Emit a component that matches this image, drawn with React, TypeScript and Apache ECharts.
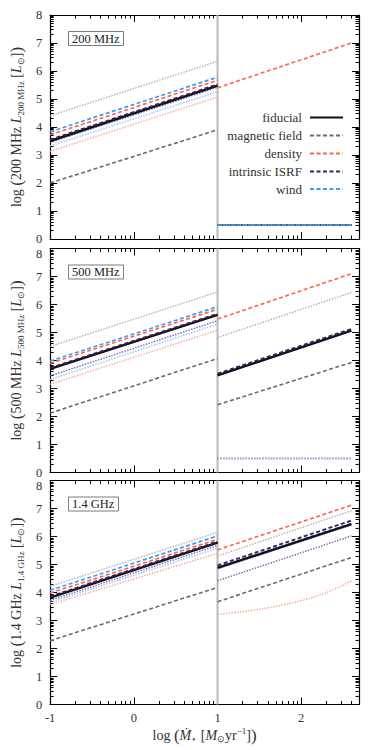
import React, { useEffect, useRef } from 'react';
import * as echarts from 'echarts';

// ---------- axes ----------
const X_MIN = -1;
const X_MAX = 2.69;
const Y_MIN = 0;
const Y_MAX = 8;
const X_MAJOR = [-1, 0, 1, 2];
const Y_MAJOR = [0, 1, 2, 3, 4, 5, 6, 7, 8];
const Y_MAJOR_NO_TOP = [0, 1, 2, 3, 4, 5, 6, 7];
const Y_TOP = [8];
const X_SPLIT = 1;

// x positions of the two model segments
const X_LEFT = [-1, 1];
const X_RIGHT = [1, 2.6];
const X_CURVE = [1, 1.2, 1.4, 1.6, 1.8, 2.0, 2.2, 2.4, 2.6];

// series order (drawing order)
const KEYS = ['magDot', 'magDash', 'denDot', 'denDash', 'isrfDot', 'windDot', 'windDash', 'fid', 'isrfDash'];
const NAMES = [
  'magnetic field (high)', 'magnetic field', 'density (low)', 'density',
  'intrinsic ISRF (low)', 'wind (low)', 'wind', 'fiducial', 'intrinsic ISRF',
];
const LEGEND_NAMES = ['fiducial', 'magnetic field', 'density', 'intrinsic ISRF', 'wind'];

// 200 MHz panel
const p200LeftStart = [4.40, 2.00, 3.13, 3.72, 3.45, 3.32, 3.83, 3.50, 3.55];
const p200LeftEnd = [6.35, 3.90, 5.07, 5.67, 5.42, 5.26, 5.78, 5.48, 5.52];
const p200RightStart = [0.5, 0.5, 0.5, 5.40, 0.5, 0.5, 0.5, 0.5, 0.5];
const p200RightEnd = [0.5, 0.5, 0.5, 7.00, 0.5, 0.5, 0.5, 0.5, 0.5];

// 500 MHz panel
const p500LeftStart = [4.50, 2.12, 3.15, 3.90, 3.45, 3.32, 3.98, 3.70, 3.74];
const p500LeftEnd = [6.45, 4.07, 5.08, 5.83, 5.42, 5.30, 5.92, 5.63, 5.67];
const p500RightStart = [4.82, 2.42, 0.5, 5.48, 0.5, 0.5, 3.50, 3.47, 3.53];
const p500RightEnd = [6.43, 3.93, 0.5, 7.10, 0.5, 0.5, 5.10, 5.07, 5.13];

// 1.4 GHz panel
const p14LeftStart = [4.22, 2.28, 3.57, 3.98, 3.72, 3.65, 4.08, 3.82, 3.86];
const p14LeftEnd = [6.15, 4.18, 5.40, 5.90, 5.68, 5.58, 6.02, 5.78, 5.82];
const p14RightStart = [5.30, 3.67, null, 5.52, 4.42, 4.84, 4.90, 4.88, 4.97];
const p14RightEnd = [6.92, 5.25, null, 7.12, 6.02, 6.40, 6.47, 6.44, 6.57];
const p14DensityLowRight = [3.22, 3.28, 3.36, 3.45, 3.57, 3.71, 3.89, 4.12, 4.42];

const PANEL_LABELS = ['200 MHz', '500 MHz', '1.4 GHz'];
const PANEL_YNAMES = [
  '{t|log }{b|(}{t|200 MHz }{i|L}{s|200 MHz}{t| [}{i|L}{s|⊙}{t|]}{b|)}',
  '{t|log }{b|(}{t|500 MHz }{i|L}{s|500 MHz}{t| [}{i|L}{s|⊙}{t|]}{b|)}',
  '{t|log }{b|(}{t|1.4 GHz }{i|L}{s|1.4 GHz}{t| [}{i|L}{s|⊙}{t|]}{b|)}',
];

const STYLES: Record<string, any> = {
  magDot: { color: '#a9a9a9', type: [1.4, 1.4], width: 1.3 },
  magDash: { color: '#6c6c6c', type: [4, 2.5], width: 1.6 },
  denDot: { color: '#ffa18e', type: [1.4, 1.4], width: 1.4 },
  denDash: { color: '#ff6443', type: [4, 2.5], width: 1.6 },
  isrfDot: { color: '#7a5bb0', type: [1.4, 1.4], width: 1.4 },
  windDot: { color: '#8ec5ff', type: [1.4, 1.4], width: 1.5 },
  windDash: { color: '#3d9cf6', type: [4, 2.5], width: 1.7 },
  fid: { color: '#111111', type: 'solid', width: 2.4 },
  isrfDash: { color: '#3a2260', type: [4, 2.5], width: 1.9 },
};

const FONT = 'Liberation Serif';

function minorValues(from: number, to: number, max: number) {
  const out: number[] = [];
  for (let n = from; n <= to; n++) {
    for (let k = 2; k <= 9; k++) {
      const v = n + Math.log10(k);
      if (v < max) out.push(+v.toFixed(4));
    }
  }
  return out;
}
const X_MINOR = minorValues(-1, 2, X_MAX);
const Y_MINOR = minorValues(0, 7, Y_MAX);

const GRID_TOPS = [15, 248.5, 480.5];
const GRID_H = 224;

export default function App() {
  const ref = useRef<HTMLDivElement>(null);
  useEffect(() => {
    document.body.style.margin = '0';
    if (!ref.current) return;
    const chart = echarts.init(ref.current, null, { renderer: 'svg' });

    const lineStyle = { color: '#000', width: 1.2 };
    const tickStyle = { color: '#000', width: 1 };
    const labelBase = { fontFamily: FONT, fontSize: 12.5, color: '#333' };
    const xAxis: any[] = [];
    const yAxis: any[] = [];
    const grid: any[] = [];
    const series: any[] = [];
    const title: any[] = [];

    const panels = [
      [p200LeftStart, p200LeftEnd, p200RightStart, p200RightEnd],
      [p500LeftStart, p500LeftEnd, p500RightStart, p500RightEnd],
      [p14LeftStart, p14LeftEnd, p14RightStart, p14RightEnd],
    ];

    const richName = {
      t: { fontFamily: FONT, fontSize: 14, color: '#333' },
      b: { fontFamily: FONT, fontSize: 17, color: '#333' },
      i: { fontFamily: FONT, fontSize: 14, fontStyle: 'italic', color: '#333' },
      s: { fontFamily: FONT, fontSize: 9, color: '#333', verticalAlign: 'bottom' },
      p: { fontFamily: FONT, fontSize: 9, color: '#333', verticalAlign: 'top' },
    };

    GRID_TOPS.forEach((top, g) => {
      grid.push({ left: 46, right: 15, top, height: GRID_H });
      const xb = { type: 'value', gridIndex: g, min: X_MIN, max: X_MAX, splitLine: { show: false } };
      const yb = { type: 'value', gridIndex: g, min: Y_MIN, max: Y_MAX, splitLine: { show: false } };
      const last = g === 2;
      xAxis.push(
        {
          ...xb, position: 'bottom',
          axisLine: { show: true, onZero: false, lineStyle },
          axisTick: { show: true, inside: true, length: 7, customValues: X_MAJOR, lineStyle: tickStyle },
          axisLabel: { show: last, customValues: X_MAJOR, ...labelBase, margin: 7 },
          ...(last ? {
            name: '{t|log }{b|(}{i|Ṁ}{s|⋆}{t| [}{i|M}{s|⊙}{t|yr}{p|−1}{t|]}{b|)}',
            nameLocation: 'middle', nameGap: 22,
            nameTextStyle: { fontFamily: FONT, fontSize: 14, color: '#333', rich: richName },
          } : {}),
        },
        {
          ...xb, position: 'bottom',
          axisLine: { show: false, onZero: false },
          axisTick: { show: true, inside: true, length: 3.5, customValues: X_MINOR, lineStyle: tickStyle },
          axisLabel: { show: false },
        },
        {
          ...xb, position: 'top',
          axisLine: { show: true, onZero: false, lineStyle },
          axisTick: { show: true, inside: true, length: 7, customValues: X_MAJOR, lineStyle: tickStyle },
          axisLabel: { show: false },
        },
        {
          ...xb, position: 'top',
          axisLine: { show: false, onZero: false },
          axisTick: { show: true, inside: true, length: 3.5, customValues: X_MINOR, lineStyle: tickStyle },
          axisLabel: { show: false },
        },
      );
      yAxis.push(
        {
          ...yb, position: 'left',
          axisLine: { show: true, onZero: false, lineStyle },
          axisTick: { show: true, inside: true, length: 7, customValues: Y_MAJOR, lineStyle: tickStyle },
          axisLabel: { show: true, customValues: g === 0 ? Y_MAJOR : Y_MAJOR_NO_TOP, ...labelBase, margin: 8 },
          name: PANEL_YNAMES[g], nameLocation: 'middle', nameGap: 21, nameRotate: 90,
          nameTextStyle: { fontFamily: FONT, fontSize: 14, color: '#333', rich: richName },
        },
        {
          ...yb, position: 'left',
          axisLine: { show: false, onZero: false },
          axisTick: { show: true, inside: true, length: 3.5, customValues: Y_MINOR, lineStyle: tickStyle },
          // top label of the lower panels sits just under the panel above
          axisLabel: g === 0 ? { show: false } : {
            show: true, customValues: Y_TOP, ...labelBase, margin: 8, verticalAlign: 'top', padding: [-1, 0, 0, 0],
          },
        },
        {
          ...yb, position: 'right',
          axisLine: { show: true, onZero: false, lineStyle },
          axisTick: { show: true, inside: true, length: 7, customValues: Y_MAJOR, lineStyle: tickStyle },
          axisLabel: { show: false },
        },
        {
          ...yb, position: 'right',
          axisLine: { show: false, onZero: false },
          axisTick: { show: true, inside: true, length: 3.5, customValues: Y_MINOR, lineStyle: tickStyle },
          axisLabel: { show: false },
        },
      );

      // divider
      series.push({
        type: 'line', name: 'divider', xAxisIndex: 4 * g, yAxisIndex: 4 * g,
        data: [[X_SPLIT, Y_MIN], [X_SPLIT, Y_MAX]],
        symbol: 'none', silent: true, z: 1,
        lineStyle: { color: '#b9b9b9', width: 2 },
      });

      const [ls, le, rs, re] = panels[g];
      KEYS.forEach((key, i) => {
        const st = STYLES[key];
        const common = {
          type: 'line', name: NAMES[i], xAxisIndex: 4 * g, yAxisIndex: 4 * g,
          symbol: 'none', showSymbol: false, silent: true,
          lineStyle: { color: st.color, type: st.type, width: st.width },
          itemStyle: { color: st.color },
          z: 2,
        };
        series.push({ ...common, data: [[X_LEFT[0], ls[i]], [X_LEFT[1], le[i]]] });
        if (rs[i] != null) {
          const onTop = g === 0 && (key === 'windDash' || key === 'windDot');
          const floorFid = g === 0 && key === 'fid';
          series.push({
            ...common, z: onTop ? 3 : 2,
            lineStyle: floorFid ? { ...common.lineStyle, width: 1.5 } : common.lineStyle,
            data: [[X_RIGHT[0], rs[i]], [X_RIGHT[1], re[i]]],
          });
        } else if (g === 2 && key === 'denDot') {
          series.push({ ...common, smooth: true, data: X_CURVE.map((x, j) => [x, p14DensityLowRight[j]]) });
        }
      });

      title.push({
        text: PANEL_LABELS[g], left: 68, top: top + 16,
        textStyle: { fontFamily: FONT, fontSize: 12.5, fontWeight: 'normal', color: '#222' },
        borderColor: '#7a7a7a', borderWidth: 1, padding: [1, 4, 1, 4],
      });
    });

    const legendCenters = [118, 136, 154, 172, 189.5];
    const legend = LEGEND_NAMES.map((n, i) => ({
      data: [n], right: 30, top: legendCenters[i] - 7, orient: 'vertical', align: 'right',
      itemWidth: 33, itemHeight: 14, selectedMode: false, padding: 0,
      itemStyle: { opacity: 0 },
      textStyle: { fontFamily: FONT, fontSize: 13, color: '#333', padding: [0, 3, 0, 0] },
    }));

    chart.setOption({
      animation: false,
      backgroundColor: '#fff',
      title, grid, xAxis, yAxis, series, legend,
    });
    return () => chart.dispose();
  }, []);
  return <div ref={ref} style={{ width: 374, height: 750 }} />;
}
